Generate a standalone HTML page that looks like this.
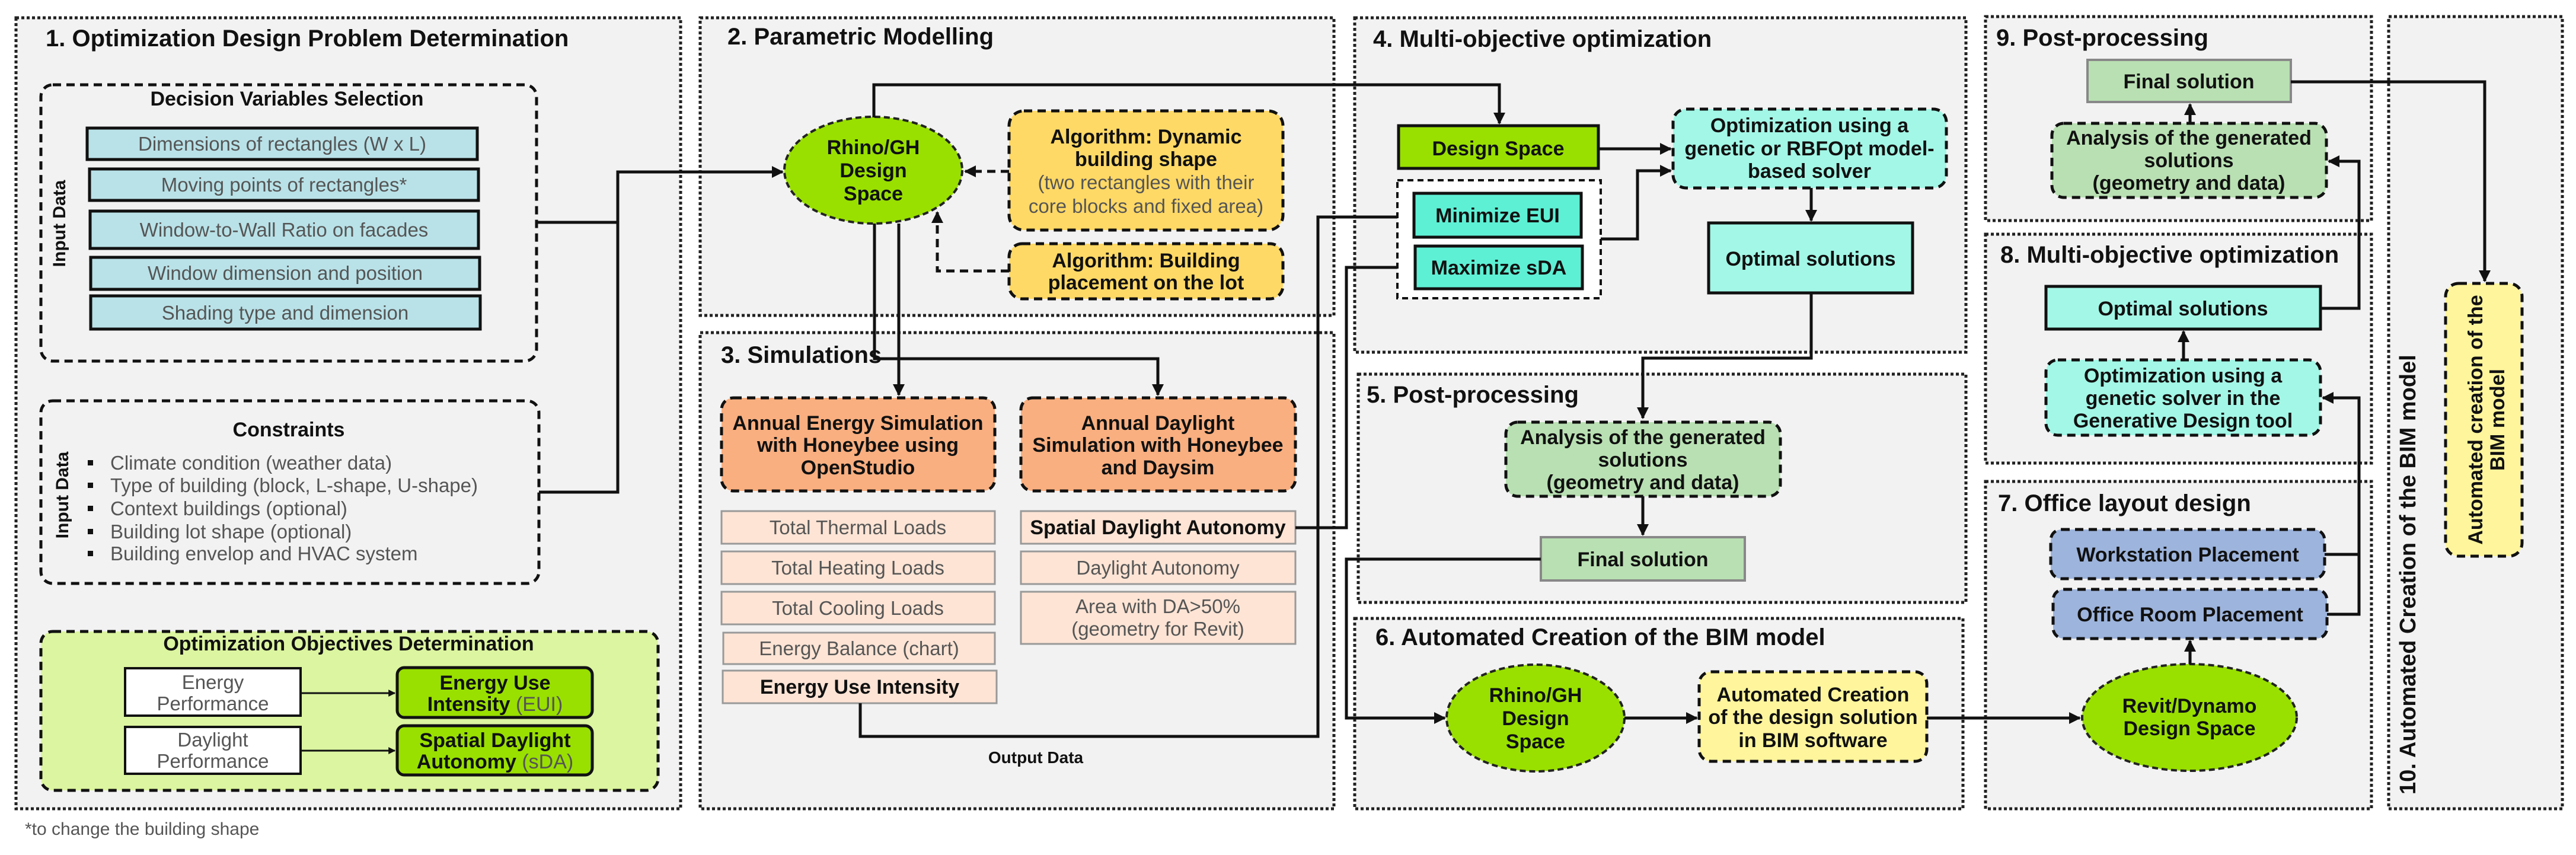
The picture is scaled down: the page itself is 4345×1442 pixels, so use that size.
<!DOCTYPE html>
<html><head><meta charset="utf-8"><style>
html,body{margin:0;padding:0;background:#fff}
svg{display:block}
text{font-family:"Liberation Sans",sans-serif}
.t{font-size:40px;font-weight:bold;fill:#111}
.b{font-size:34px;font-weight:bold;fill:#111;text-anchor:middle}
.g{font-size:33px;fill:#555;text-anchor:middle}
.p{fill:#f2f2f2;stroke:#222;stroke-width:5;stroke-dasharray:5 4}
.ln{fill:none;stroke:#111;stroke-width:5}
.d{stroke-dasharray:14 9}
</style></head><body>
<svg width="4345" height="1442" viewBox="0 0 4345 1442" xmlns="http://www.w3.org/2000/svg">
<defs><marker id="a" viewBox="0 0 10 10" refX="9" refY="5" markerWidth="4" markerHeight="4" orient="auto"><path d="M0,0L10,5L0,10z" fill="#111"/></marker></defs>

<rect class="p" x="27" y="30" width="1121" height="1334"/>
<rect class="p" x="1181" y="30" width="1069" height="502"/>
<rect class="p" x="1181" y="561" width="1069" height="803"/>
<rect class="p" x="2285" y="30" width="1031" height="564"/>
<rect class="p" x="2291" y="631" width="1025" height="385"/>
<rect class="p" x="2285" y="1043" width="1026" height="321"/>
<rect class="p" x="3349" y="28" width="651" height="344"/>
<rect class="p" x="3349" y="395" width="651" height="386"/>
<rect class="p" x="3349" y="812" width="651" height="552"/>
<rect class="p" x="4029" y="28" width="293" height="1336"/>

<text class="t" x="77" y="78">1. Optimization Design Problem Determination</text>
<text class="t" x="1227" y="75">2. Parametric Modelling</text>
<text class="t" x="1216" y="612">3. Simulations</text>
<text class="t" x="2316" y="79">4. Multi-objective optimization</text>
<text class="t" x="2305" y="679">5. Post-processing</text>
<text class="t" x="2320" y="1088">6. Automated Creation of the BIM model</text>
<text class="t" x="3367" y="77">9. Post-processing</text>
<text class="t" x="3374" y="443">8. Multi-objective optimization</text>
<text class="t" x="3370" y="862">7. Office layout design</text>
<text x="4074" y="1340" transform="rotate(-90 4074 1340)" style="font-size:38px;font-weight:bold;fill:#111">10. Automated Creation of the BIM model</text>

<rect x="69" y="143" width="836" height="466" rx="20" fill="none" stroke="#111" stroke-width="5" class="d"/>
<text class="b" x="484" y="178">Decision Variables Selection</text>
<text x="110" y="377" transform="rotate(-90 110 377)" class="b" style="font-size:30px">Input Data</text>
<g fill="#b9e2e8" stroke="#111" stroke-width="5">
<rect x="147" y="216" width="658" height="53"/><rect x="151" y="285" width="656" height="53"/><rect x="152" y="356" width="655" height="63"/><rect x="153" y="434" width="656" height="54"/><rect x="153" y="499" width="657" height="56"/></g>
<text class="g" x="476" y="254">Dimensions of rectangles (W x L)</text>
<text class="g" x="479" y="323">Moving points of rectangles*</text>
<text class="g" x="479" y="399">Window-to-Wall Ratio on facades</text>
<text class="g" x="481" y="472">Window dimension and position</text>
<text class="g" x="481" y="539">Shading type and dimension</text>

<rect x="69" y="676" width="840" height="308" rx="20" fill="none" stroke="#111" stroke-width="5" class="d"/>
<text class="b" x="487" y="736">Constraints</text>
<text x="115" y="835" transform="rotate(-90 115 835)" class="b" style="font-size:30px">Input Data</text>
<g fill="#111"><rect x="148" y="776" width="9" height="9"/><rect x="148" y="814" width="9" height="9"/><rect x="148" y="853" width="9" height="9"/><rect x="148" y="892" width="9" height="9"/><rect x="148" y="929" width="9" height="9"/></g>
<g style="font-size:33px;fill:#555">
<text x="186" y="792">Climate condition (weather data)</text>
<text x="186" y="830">Type of building (block, L-shape, U-shape)</text>
<text x="186" y="869">Context buildings (optional)</text>
<text x="186" y="908">Building lot shape (optional)</text>
<text x="186" y="945">Building envelop and HVAC system</text></g>

<rect x="69" y="1065" width="1041" height="268" rx="20" fill="#dcf5a0" stroke="#111" stroke-width="5" class="d"/>
<text class="b" x="588" y="1097">Optimization Objectives Determination</text>
<rect x="211" y="1127" width="296" height="80" fill="#fff" stroke="#111" stroke-width="4"/>
<rect x="211" y="1226" width="296" height="79" fill="#fff" stroke="#111" stroke-width="4"/>
<text class="g" x="359" y="1162">Energy</text><text class="g" x="359" y="1198">Performance</text>
<text class="g" x="359" y="1259">Daylight</text><text class="g" x="359" y="1295">Performance</text>
<rect x="670" y="1126" width="329" height="84" rx="12" fill="#99e000" stroke="#111" stroke-width="5"/>
<rect x="670" y="1224" width="329" height="83" rx="12" fill="#99e000" stroke="#111" stroke-width="5"/>
<text class="b" x="835" y="1163">Energy Use</text>
<text class="b" x="835" y="1199">Intensity <tspan style="font-weight:normal;fill:#555">(EUI)</tspan></text>
<text class="b" x="835" y="1260">Spatial Daylight</text>
<text class="b" x="835" y="1296">Autonomy <tspan style="font-weight:normal;fill:#555">(sDA)</tspan></text>
<path class="ln" style="stroke-width:3" d="M507,1169H666" marker-end="url(#a)"/>
<path class="ln" style="stroke-width:3" d="M507,1266H666" marker-end="url(#a)"/>
<text x="42" y="1408" style="font-size:30px;fill:#555">*to change the building shape</text>

<path class="ln" d="M905,375H1042M909,830H1042V290H1320" marker-end="url(#a)"/>

<ellipse cx="1473" cy="287" rx="150" ry="90" fill="#99e000" stroke="#222" stroke-width="4" stroke-dasharray="10 6"/>
<text class="b" x="1473" y="260">Rhino/GH</text><text class="b" x="1473" y="299">Design</text><text class="b" x="1473" y="338">Space</text>
<rect x="1702" y="187" width="462" height="201" rx="25" fill="#ffd966" stroke="#111" stroke-width="5" class="d"/>
<text class="b" x="1933" y="242">Algorithm: Dynamic</text>
<text class="b" x="1933" y="280">building shape</text>
<text class="g" x="1933" y="319">(two rectangles with their</text>
<text class="g" x="1933" y="359">core blocks and fixed area)</text>
<rect x="1702" y="411" width="462" height="93" rx="22" fill="#ffd966" stroke="#111" stroke-width="5" class="d"/>
<text class="b" x="1933" y="451">Algorithm: Building</text>
<text class="b" x="1933" y="488">placement on the lot</text>
<path class="ln d" d="M1702,289H1628" marker-end="url(#a)"/>
<path class="ln d" d="M1702,457H1581V358" marker-end="url(#a)"/>
<path class="ln" d="M1474,198V143H2529V208" marker-end="url(#a)"/>

<path class="ln" d="M1475,377V605H1953V666" marker-end="url(#a)"/>
<path class="ln" d="M1516,377V666" marker-end="url(#a)"/>
<rect x="1217" y="671" width="461" height="157" rx="20" fill="#f9af80" stroke="#111" stroke-width="5" class="d"/>
<rect x="1722" y="671" width="463" height="157" rx="20" fill="#f9af80" stroke="#111" stroke-width="5" class="d"/>
<text class="b" x="1447" y="725">Annual Energy Simulation</text>
<text class="b" x="1447" y="762">with Honeybee using</text>
<text class="b" x="1447" y="800">OpenStudio</text>
<text class="b" x="1953" y="725">Annual Daylight</text>
<text class="b" x="1953" y="762">Simulation with Honeybee</text>
<text class="b" x="1953" y="800">and Daysim</text>
<g fill="#fde4d5" stroke="#999" stroke-width="3">
<rect x="1217" y="862" width="461" height="55"/><rect x="1217" y="930" width="461" height="55"/><rect x="1217" y="998" width="461" height="55"/><rect x="1220" y="1067" width="458" height="53"/><rect x="1219" y="1131" width="462" height="55"/>
<rect x="1722" y="862" width="463" height="55"/><rect x="1722" y="930" width="463" height="55"/><rect x="1722" y="998" width="463" height="88"/></g>
<text class="g" x="1447" y="901">Total Thermal Loads</text>
<text class="g" x="1447" y="969">Total Heating Loads</text>
<text class="g" x="1447" y="1037">Total Cooling Loads</text>
<text class="g" x="1449" y="1105">Energy Balance (chart)</text>
<text class="b" x="1450" y="1170">Energy Use Intensity</text>
<text class="b" x="1953" y="901">Spatial Daylight Autonomy</text>
<text class="g" x="1953" y="969">Daylight Autonomy</text>
<text class="g" x="1953" y="1034">Area with DA&gt;50%</text>
<text class="g" x="1953" y="1072">(geometry for Revit)</text>
<text class="b" x="1747" y="1287" style="font-size:28px">Output Data</text>
<path class="ln" d="M1451,1186V1242H2223V366H2380" marker-end="url(#a)"/>
<path class="ln" d="M2185,890H2271V451H2382" marker-end="url(#a)"/>

<rect x="2359" y="212" width="337" height="72" fill="#99e000" stroke="#111" stroke-width="5"/>
<text class="b" x="2527" y="262">Design Space</text>
<rect x="2357" y="304" width="343" height="199" fill="#fff" stroke="#111" stroke-width="4" stroke-dasharray="10 7"/>
<rect x="2385" y="326" width="282" height="74" fill="#5ef0d5" stroke="#111" stroke-width="5"/>
<rect x="2387" y="415" width="282" height="72" fill="#5ef0d5" stroke="#111" stroke-width="5"/>
<text class="b" x="2526" y="375">Minimize EUI</text>
<text class="b" x="2528" y="463">Maximize sDA</text>
<path class="ln" d="M2696,251H2818" marker-end="url(#a)"/>
<path class="ln" d="M2700,403H2762V288H2818" marker-end="url(#a)"/>
<rect x="2822" y="184" width="461" height="133" rx="22" fill="#a3f7e6" stroke="#111" stroke-width="5" class="d"/>
<text class="b" x="3052" y="223">Optimization using a</text>
<text class="b" x="3052" y="262">genetic or RBFOpt model-</text>
<text class="b" x="3052" y="300">based solver</text>
<path class="ln" d="M3055,317V372" marker-end="url(#a)"/>
<rect x="2882" y="376" width="344" height="118" fill="#a3f7e6" stroke="#111" stroke-width="5"/>
<text class="b" x="3054" y="448">Optimal solutions</text>
<path class="ln" d="M3055,494V604H2771V705" marker-end="url(#a)"/>

<rect x="2540" y="712" width="463" height="125" rx="20" fill="#b9e0b3" stroke="#111" stroke-width="5" class="d"/>
<text class="b" x="2771" y="749">Analysis of the generated</text>
<text class="b" x="2771" y="787">solutions</text>
<text class="b" x="2771" y="825">(geometry and data)</text>
<path class="ln" d="M2771,837V902" marker-end="url(#a)"/>
<rect x="2599" y="906" width="344" height="73" fill="#b9e0b3" stroke="#888" stroke-width="4"/>
<text class="b" x="2771" y="955">Final solution</text>
<path class="ln" d="M2599,943H2271V1211H2437" marker-end="url(#a)"/>

<ellipse cx="2590" cy="1211" rx="150" ry="90" fill="#99e000" stroke="#222" stroke-width="4" stroke-dasharray="10 6"/>
<text class="b" x="2590" y="1184">Rhino/GH</text><text class="b" x="2590" y="1223">Design</text><text class="b" x="2590" y="1262">Space</text>
<path class="ln" d="M2740,1211H2862" marker-end="url(#a)"/>
<rect x="2866" y="1133" width="384" height="151" rx="20" fill="#fff59d" stroke="#111" stroke-width="5" class="d"/>
<text class="b" x="3058" y="1183">Automated Creation</text>
<text class="b" x="3058" y="1221">of the design solution</text>
<text class="b" x="3058" y="1260">in BIM software</text>
<path class="ln" d="M3250,1211H3508" marker-end="url(#a)"/>

<ellipse cx="3693" cy="1210" rx="181" ry="90" fill="#99e000" stroke="#222" stroke-width="4" stroke-dasharray="10 6"/>
<text class="b" x="3693" y="1202">Revit/Dynamo</text><text class="b" x="3693" y="1240">Design Space</text>
<path class="ln" d="M3694,1120V1081" marker-end="url(#a)"/>
<rect x="3459" y="893" width="462" height="83" rx="18" fill="#9db4dc" stroke="#111" stroke-width="5" class="d"/>
<rect x="3463" y="994" width="462" height="83" rx="18" fill="#9db4dc" stroke="#111" stroke-width="5" class="d"/>
<text class="b" x="3690" y="947">Workstation Placement</text>
<text class="b" x="3694" y="1048">Office Room Placement</text>
<path class="ln" d="M3921,935H3979M3925,1036H3979V671H3918" marker-end="url(#a)"/>

<rect x="3451" y="607" width="463" height="127" rx="20" fill="#a3f7e6" stroke="#111" stroke-width="5" class="d"/>
<text class="b" x="3682" y="645">Optimization using a</text>
<text class="b" x="3682" y="683">genetic solver in the</text>
<text class="b" x="3682" y="721">Generative Design tool</text>
<path class="ln" d="M3683,607V559" marker-end="url(#a)"/>
<rect x="3451" y="483" width="463" height="72" fill="#a3f7e6" stroke="#111" stroke-width="5"/>
<text class="b" x="3682" y="532">Optimal solutions</text>
<path class="ln" d="M3914,520H3979V272H3928" marker-end="url(#a)"/>

<rect x="3461" y="208" width="463" height="125" rx="20" fill="#b9e0b3" stroke="#111" stroke-width="5" class="d"/>
<text class="b" x="3692" y="244">Analysis of the generated</text>
<text class="b" x="3692" y="282">solutions</text>
<text class="b" x="3692" y="320">(geometry and data)</text>
<path class="ln" d="M3694,208V176" marker-end="url(#a)"/>
<rect x="3521" y="101" width="343" height="71" fill="#b9e0b3" stroke="#888" stroke-width="4"/>
<text class="b" x="3692" y="149">Final solution</text>
<path class="ln" d="M3864,138H4191V474" marker-end="url(#a)"/>

<rect x="4125" y="478" width="129" height="460" rx="22" fill="#fff59d" stroke="#111" stroke-width="5" class="d"/>
<text class="b" x="4187" y="708" transform="rotate(-90 4187 708)">Automated creation of the</text>
<text class="b" x="4224" y="708" transform="rotate(-90 4224 708)">BIM model</text>
</svg>
</body></html>
